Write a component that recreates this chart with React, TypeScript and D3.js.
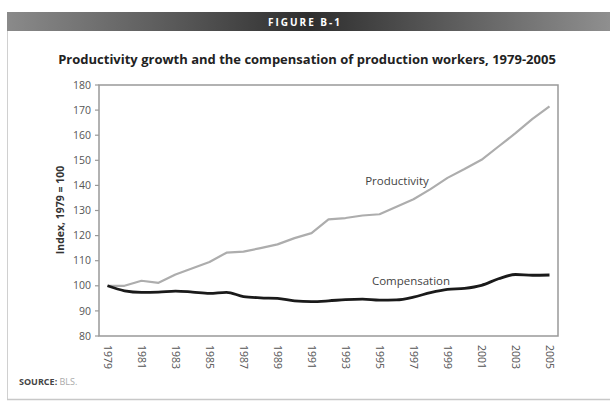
import React from "react";
import * as d3 from "d3";

const years = d3.range(1979, 2006);
const productivity = [100, 100, 102, 101.2, 104.5, 107, 109.5, 113.2, 113.6, 115, 116.5, 119, 121, 126.5, 127, 128, 128.5, 131.5, 134.5, 138.5, 143, 146.5, 150.2, 155.5, 160.8, 166.5, 171.5];
const compensation = [100, 98, 97.4, 97.5, 97.9, 97.5, 97, 97.4, 95.7, 95.2, 95, 94, 93.7, 94, 94.5, 94.7, 94.3, 94.4, 95.5, 97.3, 98.6, 99, 100.2, 102.8, 104.5, 104.2, 104.3];
const yTicks = [80, 90, 100, 110, 120, 130, 140, 150, 160, 170, 180];
const xTickYears = years.filter((y) => (y - 1979) % 2 === 0);

const W = 610, H = 402;
const plot = { left: 99, right: 558, top: 85, bottom: 336 };
const font = "'Open Sans', 'Noto Sans', sans-serif";

export default function App() {
  const x = d3.scalePoint<number>().domain(years).range([plot.left, plot.right]).padding(0.5);
  const y = d3.scaleLinear().domain([80, 180]).range([plot.bottom, plot.top]);
  const line = d3.line<number>().x((_, i) => x(years[i])!).y((d) => y(d)).curve(d3.curveMonotoneX);
  const lineP = d3.line<number>().x((_, i) => x(years[i])!).y((d) => y(d));

  return (
    <svg width={W} height={H} style={{ position: "absolute", left: 0, top: 0, background: "#fff" }}>
      <defs>
        <linearGradient id="hdr" x1="0" x2="1" y1="0" y2="0">
          <stop offset="0" stopColor="#8a8a8a" />
          <stop offset="0.3" stopColor="#555" />
          <stop offset="0.5" stopColor="#2e2e2e" />
          <stop offset="0.7" stopColor="#555" />
          <stop offset="1" stopColor="#8f8f8f" />
        </linearGradient>
      </defs>
      <rect x={0} y={0} width={W} height={H} fill="#fff" />
      {/* outer frame */}
      <line x1={7.5} x2={7.5} y1={30} y2={400} stroke="#d0d0d0" strokeWidth={1} />
      <line x1={7} x2={W} y1={399.5} y2={399.5} stroke="#c8c8c8" strokeWidth={1.5} />
      <rect x={7} y={12} width={W - 7} height={19} fill="url(#hdr)" />
      <text x={305} y={25.5} textAnchor="middle" fill="#fff" fontFamily={font} fontWeight={700} fontSize={10} letterSpacing={2}>FIGURE B-1</text>
      <text x={307} y={64} textAnchor="middle" fill="#222" fontFamily={font} fontWeight={700} fontSize={13}>
        Productivity growth and the compensation of production workers, 1979-2005
      </text>

      {/* plot frame */}
      <rect x={plot.left} y={plot.top} width={plot.right - plot.left} height={plot.bottom - plot.top} fill="none" stroke="#999" strokeWidth={1.5} />

      {yTicks.map((t) => (
        <g key={t}>
          <line x1={plot.left - 4} x2={plot.left} y1={y(t)} y2={y(t)} stroke="#999" strokeWidth={1.2} />
          <text x={plot.left - 8} y={y(t)} dy="0.35em" textAnchor="end" fill="#555" fontFamily={font} fontSize={10.5}>{t}</text>
        </g>
      ))}
      {xTickYears.map((yr) => (
        <text key={yr} transform={`translate(${x(yr)},${plot.bottom + 9}) rotate(90)`} dy="0.35em" textAnchor="start" fill="#555" fontFamily={font} fontSize={10.5}>{yr}</text>
      ))}
      <text transform={`translate(64,210) rotate(-90)`} textAnchor="middle" fill="#333" fontFamily={font} fontWeight={700} fontSize={10.5}>Index, 1979 = 100</text>

      <path d={lineP(productivity)!} fill="none" stroke="#adadad" strokeWidth={2.2} strokeLinejoin="round" />
      <path d={line(compensation)!} fill="none" stroke="#1a1a1a" strokeWidth={2.8} strokeLinejoin="round" />

      <text x={397} y={185} textAnchor="middle" fill="#444" fontFamily={font} fontSize={11.5}>Productivity</text>
      <text x={411} y={285} textAnchor="middle" fill="#444" fontFamily={font} fontSize={11.5}>Compensation</text>

      <text x={19} y={385} fill="#444" fontFamily={font} fontSize={9}>
        <tspan fontWeight={700}>SOURCE:</tspan>
        <tspan fill="#aaa"> BLS.</tspan>
      </text>
    </svg>
  );
}
